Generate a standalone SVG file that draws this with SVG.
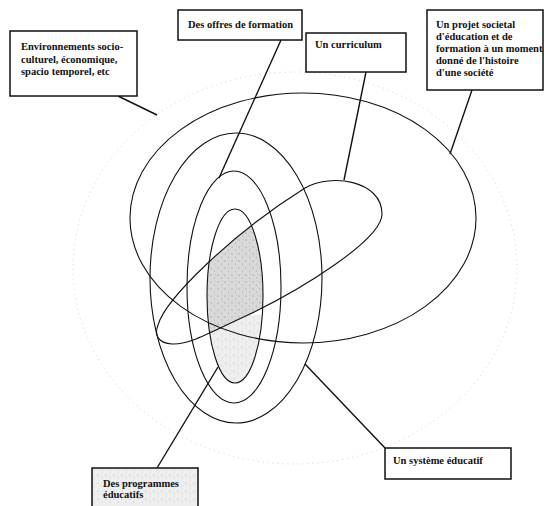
<svg xmlns="http://www.w3.org/2000/svg" width="544" height="506" viewBox="0 0 544 506">
<style>
.box{fill:#fff;stroke:#111;stroke-width:1.5}
.lbl{font-family:"Liberation Serif","DejaVu Serif",serif;font-weight:bold;font-size:10.5px;fill:#111}
.set{fill:none;stroke:#111;stroke-width:1.1}
.con{fill:none;stroke:#111;stroke-width:1.4}
</style>
<defs>
<pattern id="stipple" width="7" height="7" patternUnits="userSpaceOnUse">
<rect width="7" height="7" fill="#d9d9d9"/>
<circle cx="1" cy="2" r="0.6" fill="#888"/>
<circle cx="4.5" cy="5" r="0.5" fill="#999"/>
<circle cx="5.5" cy="1" r="0.4" fill="#aaa"/>
</pattern>
<pattern id="stippleLight" width="8" height="8" patternUnits="userSpaceOnUse">
<rect width="8" height="8" fill="#eeeeee"/>
<circle cx="2" cy="3" r="0.5" fill="#bbb"/>
<circle cx="6" cy="6" r="0.5" fill="#c4c4c4"/>
</pattern>
<clipPath id="innerClip"><ellipse cx="235" cy="296" rx="28" ry="87"/></clipPath>
</defs>

<!-- faint outer environment boundary -->
<ellipse id="environnement-zone" cx="295" cy="268" rx="222" ry="196" fill="none" stroke="#cfcfcf" stroke-width="1" stroke-dasharray="1 4"/>

<!-- shading -->
<g id="shading">
<rect x="200" y="315" width="70" height="75" fill="url(#stippleLight)" clip-path="url(#innerClip)"/>
<path d="M158 325 C165 300 230 235 305 188 C330 173 382 180 382 214 C382 240 300 290 250 314 C215 330 190 345 172 344 C158 343 154 335 158 325 Z" fill="url(#stipple)" clip-path="url(#innerClip)"/>
</g>

<!-- sets -->
<g id="sets">
<ellipse id="projet-ellipse" class="set" cx="303" cy="218" rx="173" ry="125"/>
<ellipse id="systeme-ellipse" class="set" cx="236" cy="278" rx="86" ry="145"/>
<ellipse id="offres-ellipse" class="set" cx="234" cy="287" rx="47" ry="116"/>
<ellipse id="programmes-ellipse" class="set" cx="235" cy="296" rx="28" ry="87"/>
<path id="curriculum-shape" class="set" d="M158 325 C165 300 230 235 305 188 C330 173 382 180 382 214 C382 240 300 290 250 314 C215 330 190 345 172 344 C158 343 154 335 158 325 Z"/>
</g>

<!-- connectors -->
<g id="connectors">
<line class="con" x1="118" y1="96" x2="157" y2="115"/>
<line class="con" x1="281" y1="40" x2="219" y2="178"/>
<line class="con" x1="366" y1="72" x2="344" y2="180"/>
<line class="con" x1="472" y1="90" x2="450" y2="154"/>
<line class="con" x1="157" y1="468" x2="218" y2="367"/>
<line class="con" x1="385" y1="448" x2="305" y2="364"/>
</g>

<g id="node-environnements">
<rect class="box" x="10" y="31" width="127" height="65"/>
<text class="lbl" x="21" y="50">Environnements socio-</text>
<text class="lbl" x="21" y="63">culturel, économique,</text>
<text class="lbl" x="21" y="75">spacio temporel, etc</text>
</g>

<g id="node-offres">
<rect class="box" x="178" y="10" width="124" height="30"/>
<text class="lbl" x="188" y="28">Des offres de formation</text>
</g>

<g id="node-curriculum">
<rect class="box" x="306" y="33" width="100" height="39"/>
<text class="lbl" x="315" y="48">Un curriculum</text>
</g>

<g id="node-projet">
<rect class="box" x="427" y="10" width="116" height="80"/>
<text class="lbl" x="436" y="28">Un projet societal</text>
<text class="lbl" x="436" y="40">d'éducation et de</text>
<text class="lbl" x="436" y="52">formation à un moment</text>
<text class="lbl" x="436" y="64">donné de l'histoire</text>
<text class="lbl" x="436" y="76">d'une société</text>
</g>

<g id="node-programmes">
<rect class="box" x="92" y="468" width="106" height="40" style="fill:url(#stippleLight)"/>
<text class="lbl" x="103" y="487">Des programmes</text>
<text class="lbl" x="103" y="498">éducatifs</text>
</g>

<g id="node-systeme">
<rect class="box" x="385" y="448" width="126" height="31"/>
<text class="lbl" x="393" y="464">Un système éducatif</text>
</g>
</svg>
